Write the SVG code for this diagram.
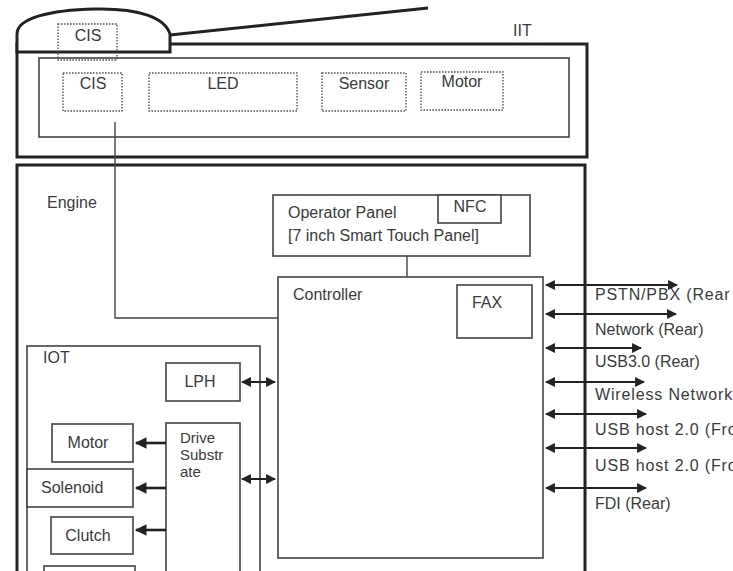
<svg xmlns="http://www.w3.org/2000/svg" width="733" height="571" viewBox="0 0 733 571">
<style>
text{font-family:"Liberation Sans",Arial,sans-serif;font-size:16px;fill:#3a3a3a}
.wide{letter-spacing:0.85px}
.thick{fill:none;stroke:#222;stroke-width:3}
.box{fill:#fff;stroke:#444;stroke-width:1.6}
.dot{fill:none;stroke:#555;stroke-width:1.4;stroke-dasharray:1.6 1.4}
.ln{fill:none;stroke:#444;stroke-width:1.4}
.arr{fill:none;stroke:#222;stroke-width:2.2;marker-end:url(#ah);marker-start:url(#ah)}
.arr1{fill:none;stroke:#222;stroke-width:2.6;marker-end:url(#ah)}
</style>
<defs>
<marker id="ah" viewBox="0 0 10 10" refX="9" refY="5" markerWidth="5" markerHeight="4.5" markerUnits="strokeWidth" orient="auto-start-reverse">
<path d="M0,0 L10,5 L0,10 Z" fill="#222"/>
</marker>
</defs>
<rect width="733" height="571" fill="#fff"/>

<g id="iit">
<rect class="thick" x="17" y="44" width="570" height="113"/>
<text x="513" y="36">IIT</text>
<rect class="box" x="39" y="58" width="530" height="79"/>
</g>
<g id="lid">
<path d="M17,52 L17,34 C17,18 50,10 95,9 C140,8 165,18 170,34 L170,52 Z" fill="#fff" stroke="#222" stroke-width="3"/>
<line x1="170" y1="35" x2="428" y2="8" stroke="#222" stroke-width="3"/>
</g>
<g id="cis-lid">
<rect class="dot" x="58" y="24" width="59" height="36"/>
<text x="88" y="41" text-anchor="middle">CIS</text>
</g>
<g id="cis">
<rect class="dot" x="63" y="73" width="59" height="38"/>
<text x="93" y="89" text-anchor="middle">CIS</text>
</g>
<g id="led">
<rect class="dot" x="149" y="73" width="148" height="38"/>
<text x="223" y="89" text-anchor="middle">LED</text>
</g>
<g id="sensor">
<rect class="dot" x="322" y="73" width="84" height="38"/>
<text x="364" y="89" text-anchor="middle">Sensor</text>
</g>
<g id="motor-iit">
<rect class="dot" x="421" y="72" width="82" height="38"/>
<text x="462" y="87" text-anchor="middle">Motor</text>
</g>

<g id="engine">
<rect class="thick" x="17" y="165" width="568" height="430"/>
<text x="47" y="208">Engine</text>
</g>

<g id="operator-panel">
<rect class="box" x="273" y="195" width="257" height="61"/>
<text x="288" y="218">Operator Panel</text>
<text x="288" y="241">[7 inch Smart Touch Panel]</text>
</g>
<g id="nfc">
<rect class="box" x="438" y="195" width="63" height="28"/>
<text x="470" y="212" text-anchor="middle">NFC</text>
</g>

<g id="controller">
<rect class="box" x="278" y="277" width="265" height="281"/>
<text x="293" y="300">Controller</text>
</g>
<g id="fax">
<rect class="box" x="457" y="285" width="75" height="53"/>
<text x="487" y="308" text-anchor="middle">FAX</text>
</g>

<g id="iot">
<rect class="box" x="27" y="346" width="233" height="240"/>
<text x="43" y="363">IOT</text>
</g>
<g id="lph">
<rect class="box" x="166" y="363" width="74" height="38"/>
<text x="200" y="387" text-anchor="middle">LPH</text>
</g>
<g id="drive">
<rect class="box" x="166" y="423" width="74" height="160"/>
<text x="180" y="443" style="font-size:15px">Drive</text>
<text x="180" y="460" style="font-size:15px">Substr</text>
<text x="180" y="477" style="font-size:15px">ate</text>
</g>
<g id="motor">
<rect class="box" x="52" y="424" width="81" height="38"/>
<text x="88" y="448" text-anchor="middle">Motor</text>
</g>
<g id="solenoid">
<rect class="box" x="27" y="469" width="106" height="38"/>
<text x="41" y="493">Solenoid</text>
</g>
<g id="clutch">
<rect class="box" x="51" y="517" width="82" height="37"/>
<text x="88" y="541" text-anchor="middle">Clutch</text>
</g>
<g id="box-bottom">
<rect class="box" x="44" y="566" width="91" height="20"/>
</g>

<g id="connectors">
<polyline class="ln" points="115,122 115,318 278,318"/>
<line class="ln" x1="407" y1="256" x2="407" y2="277"/>
<line class="arr" x1="242" y1="382" x2="275" y2="382"/>
<line class="arr" x1="242" y1="479" x2="275" y2="479"/>
<line class="arr1" x1="166" y1="443" x2="136" y2="443"/>
<line class="arr1" x1="166" y1="488" x2="136" y2="488"/>
<line class="arr1" x1="166" y1="530" x2="136" y2="530"/>
<line class="arr" x1="546" y1="285" x2="677" y2="285"/>
<line class="arr" x1="546" y1="314" x2="676" y2="314"/>
<line class="arr" x1="546" y1="348" x2="641" y2="348"/>
<line class="arr" x1="546" y1="382" x2="644" y2="382"/>
<line class="arr" x1="546" y1="414" x2="646" y2="414"/>
<line class="arr" x1="546" y1="448" x2="646" y2="448"/>
<line class="arr" x1="546" y1="488" x2="646" y2="488"/>
</g>
<g id="port-labels">
<text class="wide" x="595" y="300">PSTN/PBX (Rear</text>
<text x="595" y="335">Network (Rear)</text>
<text x="595" y="367">USB3.0 (Rear)</text>
<text class="wide" x="595" y="400">Wireless Network</text>
<text class="wide" x="595" y="435">USB host 2.0 (Fro</text>
<text class="wide" x="595" y="471">USB host 2.0 (Fro</text>
<text x="595" y="509">FDI (Rear)</text>
</g>
</svg>
